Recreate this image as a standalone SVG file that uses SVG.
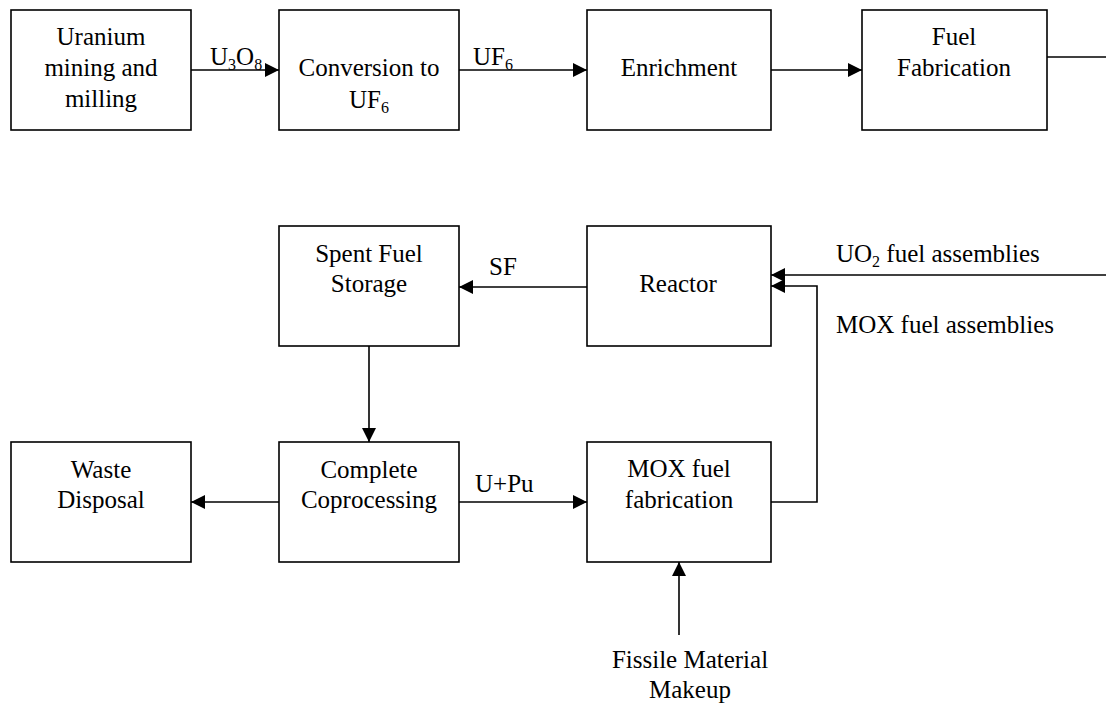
<svg xmlns="http://www.w3.org/2000/svg" width="1106" height="706" viewBox="0 0 1106 706">
<defs>
<style>
.box{fill:#fff;stroke:#000;stroke-width:1.6}
.ln{fill:none;stroke:#000;stroke-width:1.6}
text{font-family:"Liberation Serif","Times New Roman",serif;font-size:25px;fill:#000}
.c{text-anchor:middle}
.sub{font-size:16px}
</style>
<marker id="ah" markerWidth="14" markerHeight="14" viewBox="0 0 14 14" refX="14" refY="7" orient="auto" markerUnits="userSpaceOnUse">
<path d="M0,0 L14,7 L0,14 Z" fill="#000"/>
</marker>
</defs>
<rect width="1106" height="706" fill="#fff"/>
<g id="connectors">
<line class="ln" x1="191" y1="70" x2="279" y2="70" marker-end="url(#ah)"/>
<line class="ln" x1="459" y1="70" x2="587" y2="70" marker-end="url(#ah)"/>
<line class="ln" x1="771" y1="70" x2="862" y2="70" marker-end="url(#ah)"/>
<line class="ln" x1="1047" y1="57" x2="1106" y2="57"/>
<line class="ln" x1="1106" y1="275" x2="771" y2="275" marker-end="url(#ah)"/>
<polyline class="ln" points="771,502 817,502 817,286 771,286" marker-end="url(#ah)"/>
<line class="ln" x1="587" y1="287" x2="459" y2="287" marker-end="url(#ah)"/>
<line class="ln" x1="369" y1="346" x2="369" y2="442" marker-end="url(#ah)"/>
<line class="ln" x1="279" y1="502" x2="191" y2="502" marker-end="url(#ah)"/>
<line class="ln" x1="459" y1="502" x2="587" y2="502" marker-end="url(#ah)"/>
<line class="ln" x1="679" y1="635" x2="679" y2="562" marker-end="url(#ah)"/>
<text x="210" y="65">U<tspan class="sub" dy="5">3</tspan><tspan dy="-5">O</tspan><tspan class="sub" dy="5">8</tspan></text>
<text x="473" y="65">UF<tspan class="sub" dy="5">6</tspan></text>
<text x="489" y="275">SF</text>
<text x="836" y="262">UO<tspan class="sub" dy="5">2</tspan><tspan dy="-5"> fuel assemblies</tspan></text>
<text x="836" y="333">MOX fuel assemblies</text>
<text x="475" y="492">U+Pu</text>
<text class="c" x="690" y="668">Fissile Material</text>
<text class="c" x="690" y="698">Makeup</text>
</g>
<g id="mining">
<rect class="box" x="11" y="10" width="180" height="120"/>
<text class="c" x="101" y="45">Uranium</text>
<text class="c" x="101" y="76">mining and</text>
<text class="c" x="101" y="107">milling</text>
</g>
<g id="conversion">
<rect class="box" x="279" y="10" width="180" height="120"/>
<text class="c" x="369" y="76">Conversion to</text>
<text class="c" x="369" y="108">UF<tspan class="sub" dy="5">6</tspan></text>
</g>
<g id="enrichment">
<rect class="box" x="587" y="10" width="184" height="120"/>
<text class="c" x="679" y="76">Enrichment</text>
</g>
<g id="fuelfab">
<rect class="box" x="862" y="10" width="185" height="120"/>
<text class="c" x="954" y="45">Fuel</text>
<text class="c" x="954" y="76">Fabrication</text>
</g>
<g id="spentfuel">
<rect class="box" x="279" y="226" width="180" height="120"/>
<text class="c" x="369" y="262">Spent Fuel</text>
<text class="c" x="369" y="292">Storage</text>
</g>
<g id="reactor">
<rect class="box" x="587" y="226" width="184" height="120"/>
<text class="c" x="678" y="292">Reactor</text>
</g>
<g id="waste">
<rect class="box" x="11" y="442" width="180" height="120"/>
<text class="c" x="101" y="478">Waste</text>
<text class="c" x="101" y="508">Disposal</text>
</g>
<g id="coprocessing">
<rect class="box" x="279" y="442" width="180" height="120"/>
<text class="c" x="369" y="478">Complete</text>
<text class="c" x="369" y="508">Coprocessing</text>
</g>
<g id="moxfab">
<rect class="box" x="587" y="442" width="184" height="120"/>
<text class="c" x="679" y="477">MOX fuel</text>
<text class="c" x="679" y="508">fabrication</text>
</g>
</svg>
